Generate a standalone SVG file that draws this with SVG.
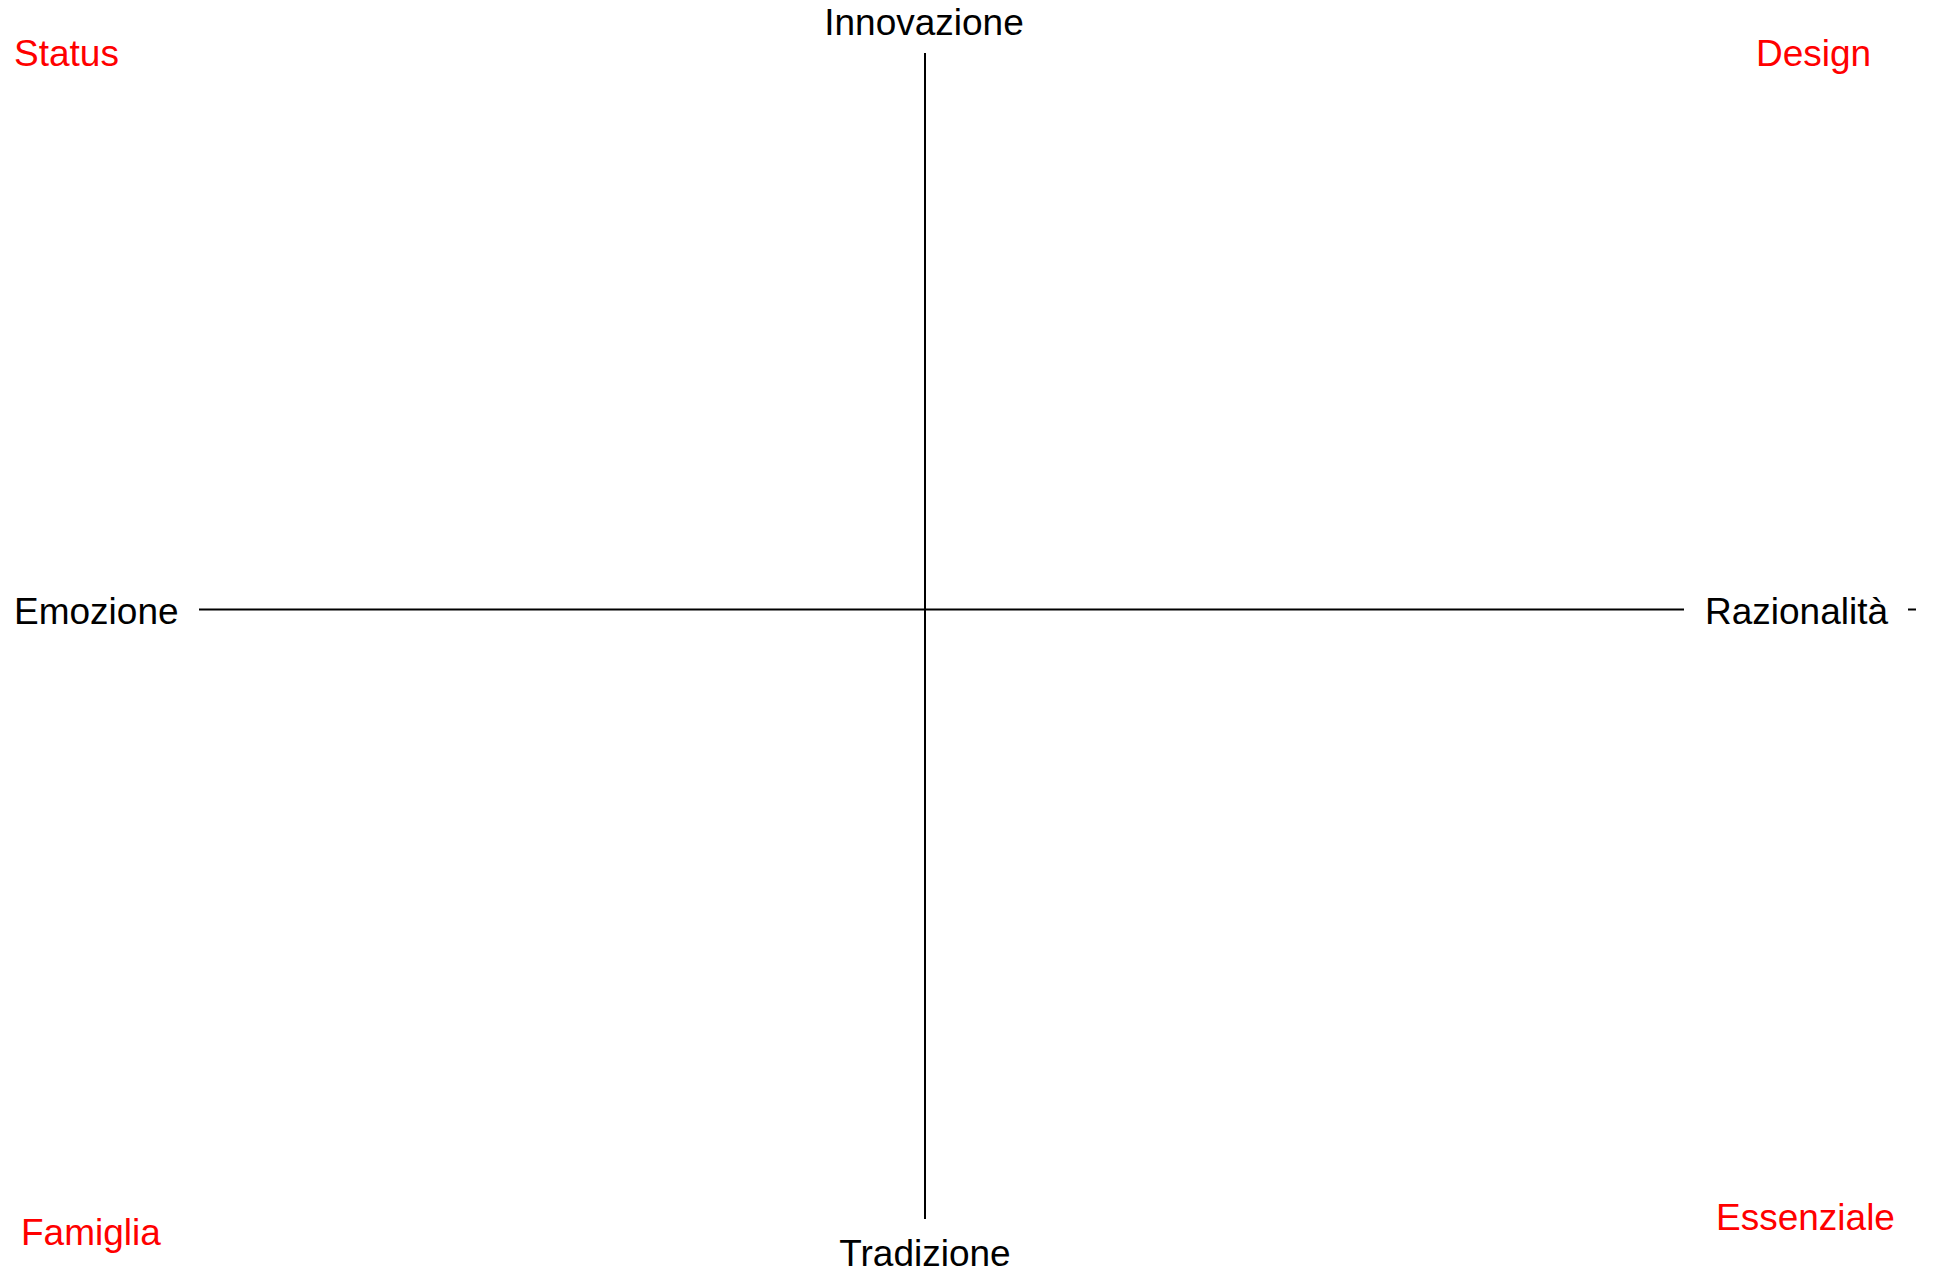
<svg xmlns="http://www.w3.org/2000/svg" width="1936" height="1271" viewBox="0 0 1936 1271">
<style>
.lbl{font-family:"Liberation Sans",Arial,sans-serif;font-size:37px;fill:#000}
.q{fill:#ff0000}
.ax{stroke:#000;stroke-width:2;fill:none}
</style>
<rect width="1936" height="1271" fill="#fff"/>
<g id="connectors">
<line class="ax" x1="925" y1="53" x2="925" y2="1219"/>
<line class="ax" x1="199" y1="609.5" x2="1684" y2="609.5"/>
<line class="ax" x1="1908" y1="609.5" x2="1916" y2="609.5"/>
</g>
<g id="innovazione"><text class="lbl" x="924" y="35" text-anchor="middle">Innovazione</text></g>
<g id="tradizione"><text class="lbl" x="925" y="1266" text-anchor="middle">Tradizione</text></g>
<g id="emozione"><text class="lbl" x="14" y="624">Emozione</text></g>
<g id="razionalita"><text class="lbl" x="1705" y="624">Razionalità</text></g>
<g id="status"><text class="lbl q" x="14" y="66">Status</text></g>
<g id="design"><text class="lbl q" x="1756" y="66">Design</text></g>
<g id="famiglia"><text class="lbl q" x="21" y="1245">Famiglia</text></g>
<g id="essenziale"><text class="lbl q" x="1716" y="1230">Essenziale</text></g>
</svg>
